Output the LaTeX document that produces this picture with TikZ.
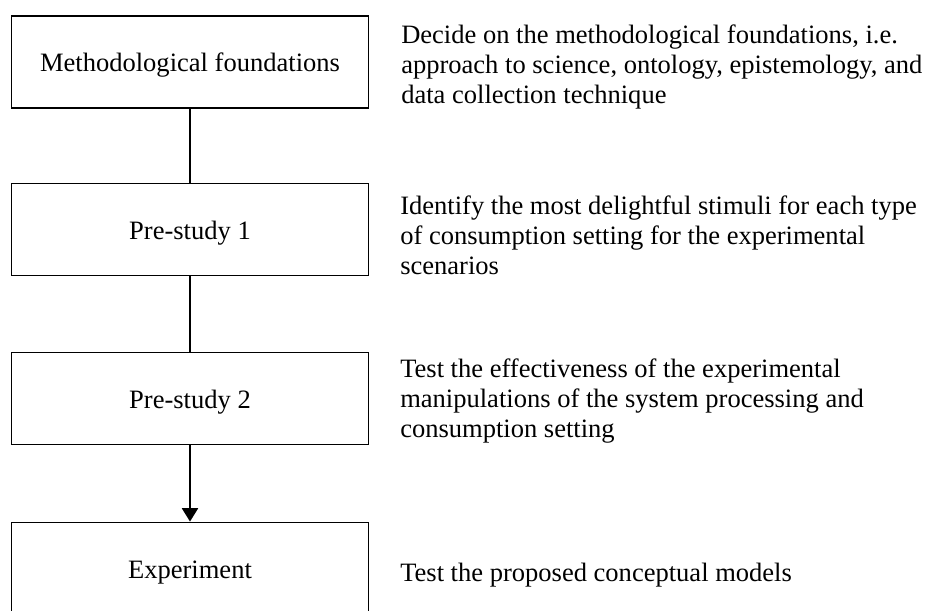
\documentclass[tikz,border=0pt]{standalone}
\usepackage{fontspec}
\setmainfont{Liberation Serif}
\usetikzlibrary{arrows.meta}
\begin{document}
\begin{tikzpicture}[x=0.75pt,y=-0.75pt,
  stagebox/.style={draw,line width=1.4pt,minimum width=267.75pt,minimum height=69pt,
    inner sep=0pt,text height=15pt,text depth=0pt,
    font=\fontsize{19.9}{22.5}\selectfont},
  stagenote/.style={anchor=west,align=left,inner sep=0pt,
    font=\fontsize{19.9}{22.5}\selectfont},
  link/.style={line width=1.4pt}]
\useasboundingbox (0,0) rectangle (933,611);

% stages of the study
\node[stagebox] (found) at (190,61.6) {Methodological foundations};
\node[stagebox] (pre1)  at (190,229.5) {Pre-study 1};
\node[stagebox] (pre2)  at (190,398.5) {Pre-study 2};
\node[stagebox] (exp)   at (190,568.5) {Experiment};

% descriptions of each stage
\node[stagenote] (nfound) at (401,67) {Decide on the methodological foundations, i.e.\\approach to science, ontology, epistemology, and\\data collection technique};
\node[stagenote] (npre1)  at (400,235) {Identify the most delightful stimuli for each type\\of consumption setting for the experimental\\scenarios};
\node[stagenote] (npre2)  at (400,401) {Test the effectiveness of the experimental\\manipulations of the system processing and\\consumption setting};
\node[stagenote] (nexp)   at (400,575) {Test the proposed conceptual models};

% connectors
\draw[link] (found.south) -- (pre1.north);
\draw[link] (pre1.south) -- (pre2.north);
\draw[link,-{Triangle[width=12pt,length=10pt]}] (pre2.south) -- (exp.north);
\end{tikzpicture}
\end{document}
